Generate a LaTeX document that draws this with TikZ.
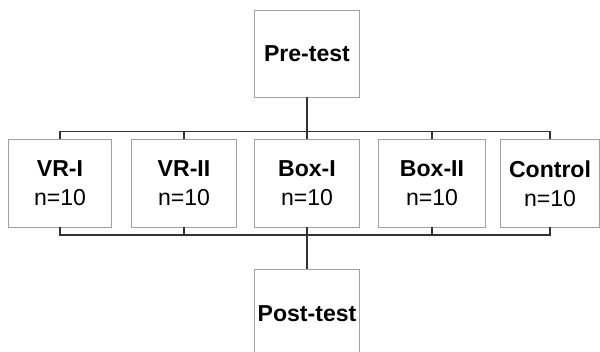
\documentclass[tikz,border=0pt]{standalone}
\usepackage{fontspec}
\setmainfont{Liberation Sans}
\usetikzlibrary{positioning}
\definecolor{boxcol}{RGB}{160, 160, 160}
\definecolor{linkcol}{RGB}{50, 50, 50}
\tikzset{
  group/.style={draw=boxcol, line width=0.7pt, minimum width=2.625cm, minimum height=2.175cm,
                inner sep=0pt, align=center, font=\fontsize{16.4}{20.6}\selectfont},
  link/.style={draw=linkcol, line width=1.1pt},
}

\begin{document}
\begin{tikzpicture}[x=0.025cm, y=-0.025cm]
  \clip (0,0) rectangle (600,352);

  \node[group, minimum height=2.15cm]          (pre)  at (307,54)    {\bfseries Pre-test};
  \node[group, minimum width=2.585cm]          (vr1)  at (60,183.5)  {\bfseries VR-I\\n=10};
  \node[group]                                 (vr2)  at (184,183.5) {\bfseries VR-II\\n=10};
  \node[group]                                 (box1) at (307,183.5) {\bfseries Box-I\\n=10};
  \node[group, minimum width=2.66cm]           (box2) at (432,183.5) {\bfseries Box-II\\n=10};
  \node[group, minimum width=2.46cm]           (ctrl) at (550,183.5) {\bfseries Control\\n=10};
  \node[group]                                 (post) at (307,313.5) {\bfseries Post-test};

  \coordinate (topbus) at (0,131.5);
  \coordinate (lowbus) at (0,235);

  % split after pre-test
  \draw[link] (pre.south) -- (pre.south |- topbus);
  \draw[link] (vr1.north) -- (vr1.north |- topbus) -- (ctrl.north |- topbus) -- (ctrl.north);
  \foreach \g in {vr2, box1, box2}
    \draw[link] (\g.north) -- (\g.north |- topbus);

  % join before post-test
  \draw[link] (vr1.south) -- (vr1.south |- lowbus) -- (ctrl.south |- lowbus) -- (ctrl.south);
  \foreach \g in {vr2, box2}
    \draw[link] (\g.south) -- (\g.south |- lowbus);
  \draw[link] (box1.south) -- (post.north);
\end{tikzpicture}
\end{document}
